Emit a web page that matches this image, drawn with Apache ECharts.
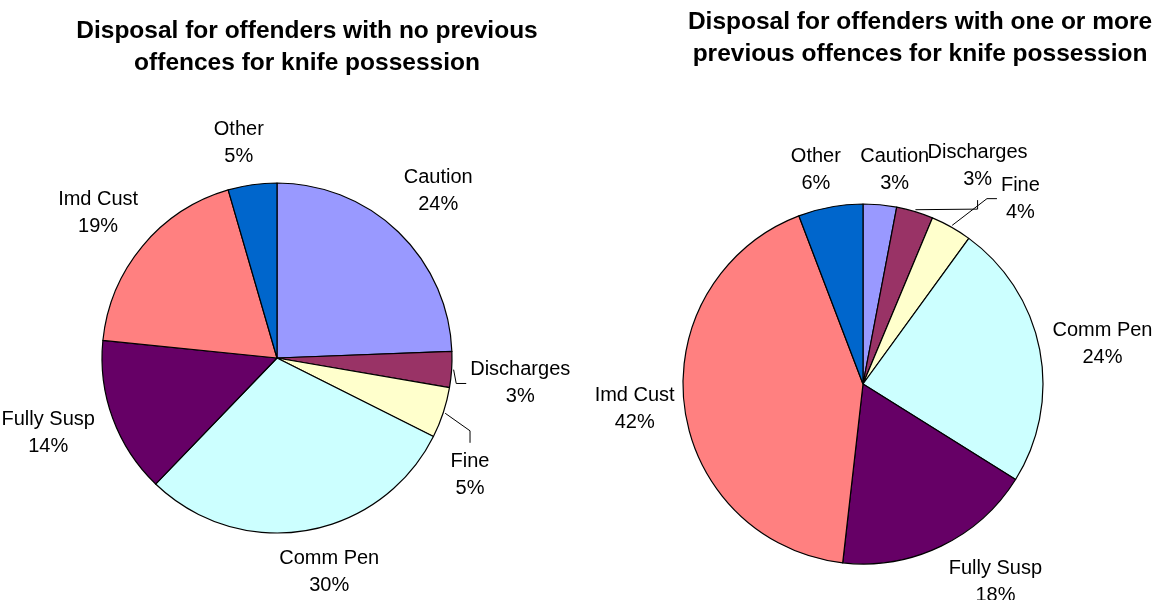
<!DOCTYPE html>
<html><head><meta charset="utf-8">
<script src="https://cdn.jsdelivr.net/npm/echarts@6/dist/echarts.min.js"></script>
<style>html,body{margin:0;padding:0;background:#fff}#c{width:1157px;height:600px}</style>
</head><body><div id="c"></div>
<script>
// ---- data ----
const categories = ['Caution', 'Discharges', 'Fine', 'Comm Pen', 'Fully Susp', 'Imd Cust', 'Other'];
const noPrevious = [24.4, 3.3, 4.7, 29.8, 14.4, 18.9, 4.5];
const withPrevious = [3.0, 3.3, 3.7, 23.9, 17.9, 42.4, 5.8];
const titleNoPrevious = 'Disposal for offenders with no previous\noffences for knife possession';
const titleWithPrevious = 'Disposal for offenders with one or more\nprevious offences for knife possession';
const leaderCategories = ['Discharges', 'Fine'];

// ---- styling / layout ----
const colors = ['#9999FF', '#993366', '#FFFFCC', '#CCFFFF', '#660066', '#FF8080', '#0066CC'];
const FONT = '"Liberation Sans", Arial, sans-serif';
// label placement tweaks (angle offset in degrees, extra distance in px), per category index
const pies = [
  { cx: 277, cy: 358, r: 175, gap: 10,
    nudge: { 0: { da: 0, dd: 4 }, 1: { da: 2.2, dd: 7 }, 2: { da: 13, dd: 10 }, 3: { da: -4, dd: -3 },
             4: { da: 2, dd: 3 }, 5: { da: -0.8, dd: -3 }, 6: { da: -2, dd: 2 } } },
  { cx: 863, cy: 384, r: 180, gap: 10,
    nudge: { 0: { da: 3, dd: -5 }, 1: { da: 11, dd: 9 }, 2: { da: 11, dd: 20 }, 3: { da: 1.5, dd: -1 },
             4: { da: -8, dd: 0 }, 5: { da: 1, dd: -3 }, 6: { da: -2, dd: -3 } } }
];

function makeLayout(si, data) {
  const p = pies[si];
  const total = data.reduce((a, b) => a + b, 0);
  return function (params) {
    const i = params.dataIndex;
    let cum = 0;
    for (let k = 0; k < i; k++) cum += data[k];
    const ang = (cum + data[i] / 2) / total * 360;
    const n = p.nudge[i] || { da: 0, dd: 0 };
    const a2 = (ang + n.da) * Math.PI / 180;
    const w = params.labelRect.width / 2, h = params.labelRect.height / 2;
    const s = Math.sin(a2), c = Math.cos(a2);
    const D = p.r + p.gap + Math.abs(s) * w + Math.abs(c) * h + n.dd;
    const lx = p.cx + D * s, ly = p.cy - D * c;
    const res = { x: lx, y: ly, align: 'center', verticalAlign: 'middle' };
    if (leaderCategories.indexOf(categories[i]) >= 0) {
      const a0 = ang * Math.PI / 180;
      const ax = p.cx + (p.r + 2) * Math.sin(a0), ay = p.cy - (p.r + 2) * Math.cos(a0);
      const th = 22;
      const bx0 = lx - w, by0 = ly - th, by1 = ly + th;
      const dxGap = bx0 - ax;
      const dyGap = ay < by0 ? by0 - ay : (ay > by1 ? ay - by1 : 0);
      let p1, p2;
      if (dxGap > dyGap) {
        p2 = [bx0 - 4, ly];
        p1 = [p2[0] - 10, p2[1]];
      } else if (ay < by0) {
        p2 = [lx, by0 - 10];
        p1 = [lx, p2[1] - 12];
      } else {
        p2 = [lx, by1 + 12];
        p1 = [lx, p2[1] + 9];
      }
      res.labelLinePoints = [[ax, ay], p1, p2];
    }
    return res;
  };
}

function buildSeries(si, data) {
  const p = pies[si];
  return {
    type: 'pie',
    center: [p.cx, p.cy],
    radius: [0, p.r],
    startAngle: 90,
    clockwise: true,
    avoidLabelOverlap: false,
    animation: false,
    silent: true,
    itemStyle: { borderColor: '#000', borderWidth: 1.2 },
    label: {
      show: true,
      position: 'outside',
      color: '#000',
      fontFamily: FONT,
      fontSize: 20,
      lineHeight: 27,
      align: 'center',
      formatter: q => q.name + '\n' + Math.round(q.percent) + '%'
    },
    labelLine: { show: false, lineStyle: { color: '#000', width: 1 } },
    labelLayout: makeLayout(si, data),
    emphasis: { disabled: true },
    data: categories.map((name, i) => ({
      name: name,
      value: data[i],
      itemStyle: { color: colors[i] },
      labelLine: { show: leaderCategories.indexOf(name) >= 0, length: 10, length2: 10, lineStyle: { color: '#000', width: 1 } }
    }))
  };
}

const chart = echarts.init(document.getElementById('c'), null, { renderer: 'canvas' });
chart.setOption({
  backgroundColor: '#fff',
  animation: false,
  textStyle: { fontFamily: FONT },
  title: [
    { text: titleNoPrevious, left: 302, top: 10, textAlign: 'center',
      textStyle: { fontFamily: FONT, fontSize: 24.5, fontWeight: 'bold', color: '#000', lineHeight: 32, align: 'center' } },
    { text: titleWithPrevious, left: 915, top: 1, textAlign: 'center',
      textStyle: { fontFamily: FONT, fontSize: 24.5, fontWeight: 'bold', color: '#000', lineHeight: 32, align: 'center' } }
  ],
  series: [buildSeries(0, noPrevious), buildSeries(1, withPrevious)]
});
</script>
</body></html>
